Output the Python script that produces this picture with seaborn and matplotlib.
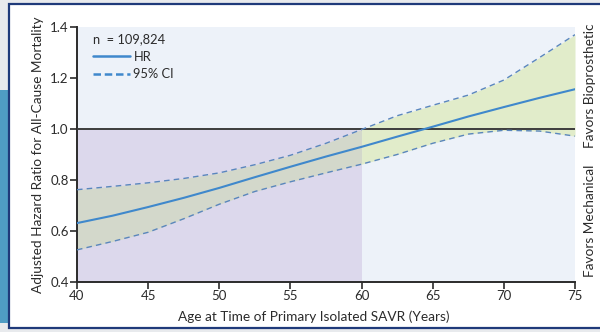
import matplotlib
matplotlib.use("Agg")
import matplotlib.pyplot as plt
from matplotlib.patches import Rectangle
from matplotlib.lines import Line2D
import seaborn as sns
import pandas as pd

# ---- data ----
age = [40, 42.5, 45, 47.5, 50, 52.5, 55, 57.5, 60, 62.5, 65, 67.5, 70, 72.5, 75]
hr = [0.631, 0.660, 0.694, 0.730, 0.769, 0.811, 0.852, 0.892, 0.930, 0.970,
      1.009, 1.049, 1.086, 1.122, 1.156]
ci_upper = [0.762, 0.775, 0.789, 0.806, 0.828, 0.860, 0.897, 0.944, 0.998,
            1.052, 1.093, 1.133, 1.192, 1.280, 1.370]
ci_lower = [0.526, 0.559, 0.595, 0.648, 0.705, 0.755, 0.793, 0.828, 0.862,
            0.900, 0.944, 0.980, 0.995, 0.992, 0.972]
x_ticks = [40, 45, 50, 55, 60, 65, 70, 75]
y_ticks = [0.4, 0.6, 0.8, 1.0, 1.2, 1.4]
n_label = "n  = 109,824"

df = pd.DataFrame({"age": age, "hr": hr, "upper": ci_upper, "lower": ci_lower})
left_part = df[df["age"] <= 60]
right_part = df[df["age"] >= 60]

sns.set_theme(style="white")
FONT = ["Lato", "DejaVu Sans"]
plt.rcParams["font.family"] = FONT
TXT = "#2b2b2b"

fig = plt.figure(figsize=(6.0, 3.32), dpi=100)
fig.patch.set_facecolor("#e8eaed")
# decorative panel
fig.add_artist(Rectangle((0, 9 / 332), 8 / 600, (323 - 90) / 332,
                         transform=fig.transFigure, facecolor="#4f9dc4",
                         edgecolor="none", zorder=-2))
fig.add_artist(Rectangle((9 / 600, 4 / 332), 600 / 600, (328 - 4) / 332,
                         transform=fig.transFigure, facecolor="white",
                         edgecolor="#1f3a7a", linewidth=1.6, zorder=-1))

ax = fig.add_axes([77 / 600, 1 - 282 / 332, 498 / 600, 255 / 332])
ax.set_facecolor("#edf2f9")

# purple region (favors mechanical, age < 60)
ax.fill_between([40, 60], 0.4, 1.0, color="#dcd8ec", linewidth=0, zorder=1)

# CI band: grey-green where it overlaps purple, green elsewhere
ax.fill_between(left_part["age"], left_part["lower"], left_part["upper"],
                color="#d3d8cb", linewidth=0, zorder=2)
ax.fill_between(right_part["age"], right_part["lower"], right_part["upper"],
                color="#e1ecca", linewidth=0, zorder=2)

# reference line at HR = 1
ax.axhline(1.0, color="#3d3d3d", linewidth=1.4, zorder=3)

line_blue = "#3f88cc"
dash_blue = "#5a86bd"
sns.lineplot(data=df, x="age", y="upper", ax=ax, color=dash_blue,
             linewidth=1.0, linestyle=(0, (4, 3)), zorder=4)
sns.lineplot(data=df, x="age", y="lower", ax=ax, color=dash_blue,
             linewidth=1.0, linestyle=(0, (4, 3)), zorder=4)
sns.lineplot(data=df, x="age", y="hr", ax=ax, color=line_blue,
             linewidth=1.5, zorder=5)

ax.set_xlim(40, 75)
ax.set_ylim(0.4, 1.4)
ax.set_xticks(x_ticks)
ax.set_xticklabels([str(t) for t in x_ticks])
ax.set_yticks(y_ticks)
ax.set_yticklabels([f"{t:.1f}" for t in y_ticks])
ax.tick_params(axis="both", which="both", direction="out", length=5, width=1.2,
               color="#2b2b2b", labelsize=9.5, labelcolor=TXT, pad=1,
               bottom=True, left=True)

for s in ["top", "right"]:
    ax.spines[s].set_visible(False)
for s in ["left", "bottom"]:
    ax.spines[s].set_color("#2b2b2b")
    ax.spines[s].set_linewidth(1.4)

ax.set_xlabel("Age at Time of Primary Isolated SAVR (Years)", fontsize=9.8,
              color=TXT)
ax.xaxis.set_label_coords(0.476, -0.112)
ax.set_ylabel("Adjusted Hazard Ratio for All-Cause Mortality", fontsize=9.8,
              color=TXT, labelpad=4)

# legend
handles = [Line2D([], [], color=line_blue, linewidth=1.8),
           Line2D([], [], color=line_blue, linewidth=1.8, linestyle=(0, (3, 1.5)))]
leg = ax.legend(handles, ["HR", "95% CI"], title=n_label, loc="upper left",
                bbox_to_anchor=(0.02, 1.0), frameon=False, fontsize=9.3,
                title_fontsize=9.3, handlelength=2.8, handletextpad=0.3,
                labelspacing=0.42, alignment="left", borderaxespad=0.2,
                borderpad=0.3)
for t in leg.get_texts():
    t.set_color(TXT)
leg.get_title().set_color(TXT)

# side annotations
fig.text(590 / 600, 1 - 86 / 332, "Favors Bioprosthetic", rotation=90,
         ha="center", va="center", fontsize=9.8, color=TXT)
fig.text(590 / 600, 1 - 221 / 332, "Favors Mechanical", rotation=90,
         ha="center", va="center", fontsize=9.8, color=TXT)

fig.savefig("out.png", dpi=100, facecolor=fig.get_facecolor())
